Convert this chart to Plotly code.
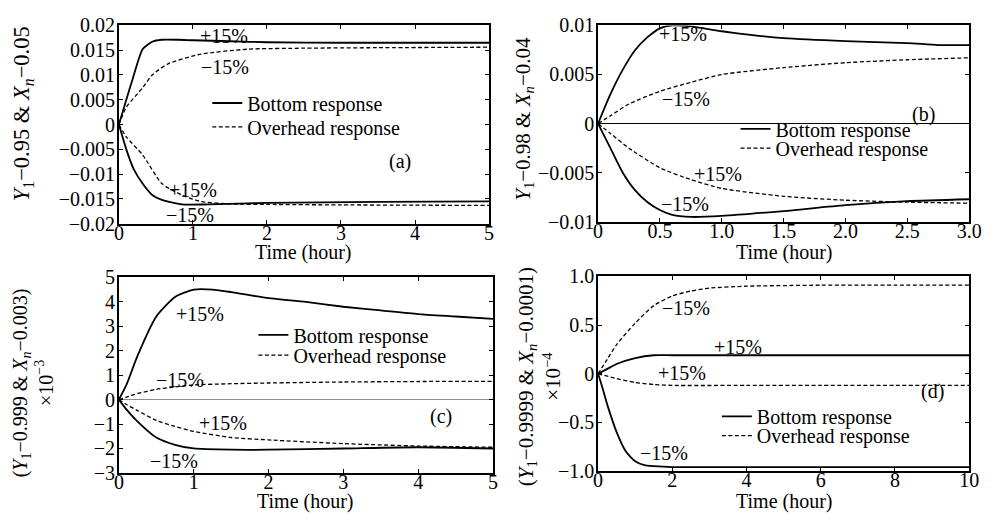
import plotly.graph_objects as go

FONT = "Liberation Serif"

# ---------------- data ----------------
# panel (a)
ta_bp = [0, 0.1, 0.19, 0.32, 0.45, 0.58, 0.8, 1.0, 1.5, 2.0, 3.0, 4.0, 5.0]
ya_bp = [0, 0.005, 0.0094, 0.0152, 0.0167, 0.0171, 0.0171, 0.0170, 0.0168, 0.0166, 0.0165, 0.0165, 0.0165]
ta_om = [0, 0.1, 0.32, 0.45, 0.67, 1.11, 1.74, 2.5, 3.5, 5.0]
ya_om = [0, 0.0035, 0.0074, 0.0100, 0.0123, 0.0142, 0.0152, 0.0154, 0.0155, 0.0156]
ta_op = [0, 0.1, 0.32, 0.58, 0.85, 1.1, 1.5, 2.0, 3.0, 5.0]
ya_op = [0, -0.0025, -0.0061, -0.0119, -0.0142, -0.0155, -0.0160, -0.0161, -0.0162, -0.0163]
ta_bm = [0, 0.1, 0.2, 0.32, 0.45, 0.58, 0.85, 1.2, 2.0, 3.5, 5.0]
ya_bm = [0, -0.005, -0.009, -0.0119, -0.0142, -0.0152, -0.0161, -0.0161, -0.0158, -0.0156, -0.0155]

# panel (b)
tb_bp = [0, 0.1, 0.2, 0.3, 0.4, 0.5, 0.6, 0.75, 1.0, 1.25, 1.5, 2.0, 2.5, 2.75, 3.0]
yb_bp = [0, 0.003, 0.0055, 0.0075, 0.0088, 0.0097, 0.0100, 0.0099, 0.0094, 0.0090, 0.0087, 0.0084, 0.0082, 0.0080, 0.0080]
tb_om = [0, 0.1, 0.25, 0.5, 0.75, 1.0, 1.5, 2.0, 2.5, 3.0]
yb_om = [0, 0.0008, 0.002, 0.0033, 0.0042, 0.0050, 0.0057, 0.0062, 0.0065, 0.0067]
tb_op = [0, 0.1, 0.25, 0.5, 0.75, 1.0, 1.5, 2.0, 2.5, 3.0]
yb_op = [0, -0.001, -0.0025, -0.0045, -0.0057, -0.0066, -0.0074, -0.0078, -0.0080, -0.0081]
tb_bm = [0, 0.1, 0.2, 0.3, 0.4, 0.5, 0.6, 0.75, 1.0, 1.5, 2.0, 2.5, 3.0]
yb_bm = [0, -0.0025, -0.005, -0.0068, -0.0080, -0.0088, -0.0093, -0.0095, -0.0094, -0.0089, -0.0083, -0.0079, -0.0077]

# panel (c)  (x 10^-3)
tc_bp = [0, 0.1, 0.25, 0.5, 0.75, 1.0, 1.25, 1.5, 2.0, 2.5, 3.0, 3.5, 4.0, 4.5, 5.0]
yc_bp = [0, 0.6, 1.8, 3.4, 4.2, 4.5, 4.5, 4.4, 4.15, 4.0, 3.8, 3.65, 3.5, 3.4, 3.3]
tc_om = [0, 0.1, 0.25, 0.5, 0.75, 1.0, 1.5, 2.0, 3.0, 4.0, 5.0]
yc_om = [0, 0.1, 0.25, 0.42, 0.52, 0.60, 0.65, 0.68, 0.72, 0.74, 0.75]
tc_op = [0, 0.1, 0.25, 0.5, 0.75, 1.0, 1.5, 2.0, 3.0, 4.0, 5.0]
yc_op = [0, -0.2, -0.45, -0.85, -1.1, -1.3, -1.55, -1.65, -1.8, -1.9, -1.95]
tc_bm = [0, 0.1, 0.25, 0.5, 0.75, 1.0, 1.5, 2.0, 3.0, 4.0, 5.0]
yc_bm = [0, -0.4, -0.9, -1.55, -1.85, -2.0, -2.05, -2.05, -2.0, -1.95, -2.0]

# panel (d)  (x 10^-4)
td_om = [0, 0.25, 0.5, 1.0, 1.5, 2.0, 2.5, 3.0, 4.0, 6.0, 8.0, 10.0]
yd_om = [0, 0.15, 0.30, 0.52, 0.70, 0.80, 0.85, 0.88, 0.90, 0.91, 0.91, 0.91]
td_bp = [0, 0.25, 0.5, 1.0, 1.5, 2.0, 4.0, 6.0, 8.0, 10.0]
yd_bp = [0, 0.05, 0.10, 0.16, 0.19, 0.19, 0.19, 0.19, 0.19, 0.19]
td_op = [0, 0.5, 1.0, 1.5, 2.0, 4.0, 6.0, 8.0, 10.0]
yd_op = [0, -0.05, -0.09, -0.11, -0.12, -0.12, -0.12, -0.12, -0.12]
td_bm = [0, 0.1, 0.25, 0.5, 0.75, 1.0, 1.25, 1.5, 2.0, 4.0, 6.0, 8.0, 10.0]
yd_bm = [0, -0.12, -0.32, -0.6, -0.8, -0.9, -0.94, -0.95, -0.96, -0.96, -0.96, -0.96, -0.96]

# tick labels
xa_ticks = [0, 1, 2, 3, 4, 5]
ya_ticks = [0.02, 0.015, 0.01, 0.005, 0, -0.005, -0.01, -0.015, -0.02]
ya_text = ["0.02", "0.015", "0.01", "0.005", "0", "−0.005", "−0.01", "−0.015", "−0.02"]
xb_ticks = [0, 0.5, 1.0, 1.5, 2.0, 2.5, 3.0]
xb_text = ["0", "0.5", "1.0", "1.5", "2.0", "2.5", "3.0"]
yb_ticks = [0.01, 0.005, 0, -0.005, -0.01]
yb_text = ["0.01", "0.005", "0", "−0.005", "−0.01"]
xc_ticks = [0, 1, 2, 3, 4, 5]
yc_ticks = [5, 4, 3, 2, 1, 0, -1, -2, -3]
yc_text = ["5", "4", "3", "2", "1", "0", "−1", "−2", "−3"]
xd_ticks = [0, 2, 4, 6, 8, 10]
yd_ticks = [1.0, 0.5, 0, -0.5, -1.0]
yd_text = ["1.0", "0.5", "0", "−0.5", "−1.0"]

# ---------------- figure ----------------
W, H = 994, 528
fig = go.Figure()

SOLID = dict(color="black", width=1.8, shape="spline", smoothing=0.6)
DASH = dict(color="black", width=1.3, dash="4px,2.5px", shape="spline", smoothing=0.6)


def add(t, y, xa, ya, line, legend=None, name=None):
    fig.add_trace(go.Scatter(
        x=t, y=y, mode="lines", line=line, xaxis=xa, yaxis=ya,
        showlegend=legend is not None, legend=legend or "legend",
        name=name or ""))


add(ta_bp, ya_bp, "x", "y", SOLID, "legend", "Bottom response")
add(ta_om, ya_om, "x", "y", DASH, "legend2", "Overhead response")
add(ta_op, ya_op, "x", "y", DASH)
add(ta_bm, ya_bm, "x", "y", SOLID)

add(tb_bp, yb_bp, "x2", "y2", SOLID, "legend3", "Bottom response")
add(tb_om, yb_om, "x2", "y2", DASH, "legend4", "Overhead response")
add(tb_op, yb_op, "x2", "y2", DASH)
add(tb_bm, yb_bm, "x2", "y2", SOLID)

add(tc_bp, yc_bp, "x3", "y3", SOLID, "legend5", "Bottom response")
add(tc_om, yc_om, "x3", "y3", DASH, "legend6", "Overhead response")
add(tc_op, yc_op, "x3", "y3", DASH)
add(tc_bm, yc_bm, "x3", "y3", SOLID)

add(td_bp, yd_bp, "x4", "y4", SOLID, "legend7", "Bottom response")
add(td_om, yd_om, "x4", "y4", DASH, "legend8", "Overhead response")
add(td_op, yd_op, "x4", "y4", DASH)
add(td_bm, yd_bm, "x4", "y4", SOLID)


def px(x):
    return x / W


def py(y):
    return 1 - y / H


AX = dict(showline=True, linecolor="black", linewidth=1.6, mirror="ticks",
          ticks="inside", ticklen=4, tickwidth=1.2, tickcolor="black",
          showgrid=False, zeroline=False,
          tickfont=dict(family=FONT, size=20, color="black"))
XAX = dict(AX, ticklabelstandoff=-10)
YAX = dict(AX, ticklabelstandoff=-2)

dom_a = dict(x=[px(116), px(493)], y=[py(222), py(15)])
dom_b = dict(x=[px(604), px(982)], y=[py(220), py(15)])
dom_c = dict(x=[px(116), px(497)], y=[py(482), py(278)])
dom_d = dict(x=[px(604), px(982)], y=[py(480), py(277)])

fig.update_layout(
    xaxis=dict(XAX, domain=dom_a["x"], anchor="y", range=[0, 5], tickvals=xa_ticks),
    yaxis=dict(YAX, domain=dom_a["y"], anchor="x", range=[-0.02, 0.02],
               tickvals=ya_ticks, ticktext=ya_text),
    xaxis2=dict(XAX, domain=dom_b["x"], anchor="y2", range=[0, 3],
                tickvals=xb_ticks, ticktext=xb_text),
    yaxis2=dict(YAX, domain=dom_b["y"], anchor="x2", range=[-0.01, 0.01],
                tickvals=yb_ticks, ticktext=yb_text,
                zeroline=True, zerolinecolor="black", zerolinewidth=1.4),
    xaxis3=dict(XAX, domain=dom_c["x"], anchor="y3", range=[0, 5], tickvals=xc_ticks),
    yaxis3=dict(YAX, domain=dom_c["y"], anchor="x3", range=[-3, 5],
                tickvals=yc_ticks, ticktext=yc_text,
                zeroline=True, zerolinecolor="#8c8c8c", zerolinewidth=1),
    xaxis4=dict(XAX, domain=dom_d["x"], anchor="y4", range=[0, 10], tickvals=xd_ticks),
    yaxis4=dict(YAX, domain=dom_d["y"], anchor="x4", range=[-1, 1],
                tickvals=yd_ticks, ticktext=yd_text),
)

# legends, one entry each so rows can be placed freely
LEG = dict(xanchor="left", yanchor="middle", bgcolor="rgba(0,0,0,0)",
           borderwidth=0, font=dict(family=FONT, size=20, color="black"),
           itemwidth=30)
leg_pos = {
    "legend": (206, 96), "legend2": (206, 121),
    "legend3": (744, 123), "legend4": (744, 143),
    "legend5": (253, 338), "legend6": (253, 359),
    "legend7": (725, 423), "legend8": (725, 443),
}
for k, (lx, ly) in leg_pos.items():
    fig.update_layout({k: dict(LEG, x=px(lx), y=py(ly))})

# annotations
TXT = dict(family=FONT, size=20, color="black")
labels = [
    ("x", "y", 1.42, 0.0179, "+15%"), ("x", "y", 1.43, 0.0117, "−15%"),
    ("x", "y", 1.0, -0.0132, "+15%"), ("x", "y", 0.96, -0.0183, "−15%"),
    ("x", "y", 3.8, -0.0074, "(a)"),
    ("x2", "y2", 0.69, 0.0091, "+15%"), ("x2", "y2", 0.71, 0.0025, "−15%"),
    ("x2", "y2", 0.97, -0.0051, "+15%"), ("x2", "y2", 0.70, -0.0082, "−15%"),
    ("x2", "y2", 2.63, 0.00093, "(b)"),
    ("x3", "y3", 1.08, 3.51, "+15%"), ("x3", "y3", 0.82, 0.80, "−15%"),
    ("x3", "y3", 1.39, -0.96, "+15%"), ("x3", "y3", 0.73, -2.53, "−15%"),
    ("x3", "y3", 4.3, -0.69, "(c)"),
    ("x4", "y4", 2.38, 0.675, "−15%"), ("x4", "y4", 3.78, 0.27, "+15%"),
    ("x4", "y4", 2.25, 0.005, "+15%"), ("x4", "y4", 1.77, -0.82, "−15%"),
    ("x4", "y4", 9.0, -0.18, "(d)"),
]
ann = []
for xr, yr, x, y, t in labels:
    ann.append(dict(xref=xr, yref=yr, x=x, y=y, text=t, showarrow=False,
                    font=TXT, xanchor="center", yanchor="middle"))

# axis titles
for cx, cy in [(304, 252), (793, 252), (306, 512), (793, 512)]:
    ann.append(dict(xref="paper", yref="paper", x=px(cx), y=py(cy),
                    text="Time (hour)", showarrow=False, font=TXT,
                    xanchor="center", yanchor="middle"))

ytitles = [
    (18, 107, 22.5, "<i>Y</i><sub>1</sub>−0.95 &amp; <i>X</i><sub><i>n</i></sub>−0.05"),
    (529, 112, 21, "<i>Y</i><sub>1</sub>−0.98 &amp; <i>X</i><sub><i>n</i></sub>−0.04"),
    (28, 388, 20, "(<i>Y</i><sub>1</sub>−0.999 &amp; <i>X</i><sub><i>n</i></sub>−0.003)<br>×10<sup>−3</sup>"),
    (544, 382, 21, "(<i>Y</i><sub>1</sub>−0.9999 &amp; <i>X</i><sub><i>n</i></sub>−0.0001)<br>×10<sup>−4</sup>"),
]
for cx, cy, fs, t in ytitles:
    ann.append(dict(xref="paper", yref="paper", x=px(cx), y=py(cy), text=t,
                    showarrow=False, font=dict(TXT, size=fs), textangle=-90,
                    xanchor="center", yanchor="middle"))

fig.update_layout(
    annotations=ann,
    width=W, height=H,
    margin=dict(l=0, r=0, t=0, b=0),
    paper_bgcolor="white", plot_bgcolor="white",
    font=dict(family=FONT, size=20, color="black"),
)

fig.write_html("out.html")
